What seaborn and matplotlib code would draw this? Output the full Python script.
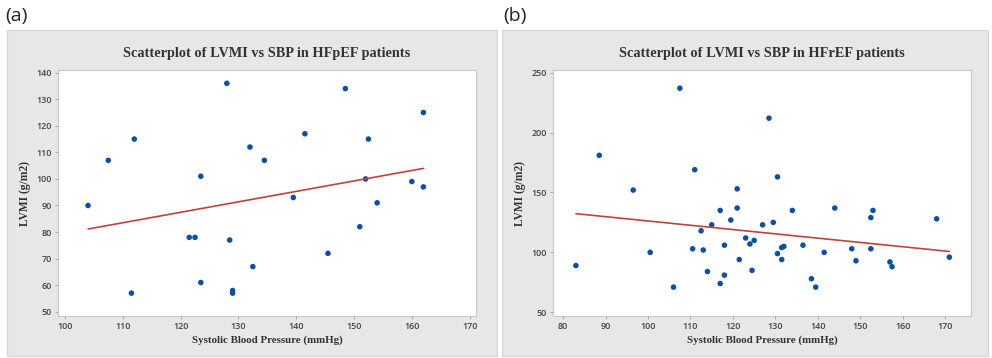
# -*- coding: utf-8 -*-
"""LVMI vs SBP scatterplots (HFpEF / HFrEF)"""
import numpy as np
import pandas as pd
import matplotlib
matplotlib.use("Agg")
import matplotlib.pyplot as plt
from matplotlib.patches import Rectangle
import seaborn as sns

sns.set_style("white")
plt.rcParams["font.family"] = ["Open Sans", "DejaVu Sans"]

# ===== data =====
sbp_pef = [104, 107.5, 111.5, 112, 121.5, 122.5, 123.5, 123.5, 128, 128.5, 129, 129, 132,
           132.5, 134.5, 139.5, 141.5, 145.5, 148.5, 151, 152, 152.5, 154, 160, 162, 162]
lvmi_pef = [90, 107, 57, 115, 78, 78, 101, 61, 136, 77, 58, 57, 112,
            67, 107, 93, 117, 72, 134, 82, 100, 115, 91, 99, 125, 97]

sbp_ref = [83, 88.5, 96.5, 100.5, 106, 107.5, 110.5, 111, 112.5, 113, 114, 115, 117, 117,
           118, 118, 119.5, 121, 121, 121.5, 123, 124, 124.5, 125, 127, 128.5, 129.5,
           130.5, 130.5, 131.5, 131.5, 132, 134, 136.5, 138.5, 139.5, 141.5, 144, 148,
           149, 152.5, 152.5, 153, 157, 157.5, 168, 171]
lvmi_ref = [89, 181, 152, 100, 71, 237, 103, 169, 118, 102, 84, 123, 135, 74,
            106, 81, 127, 153, 137, 94, 112, 107, 85, 110, 123, 212, 125,
            163, 99, 104, 94, 105, 135, 106, 78, 71, 100, 137, 103,
            93, 129, 103, 135, 92, 88, 128, 96]

x_ticks_pef = [100, 110, 120, 130, 140, 150, 160, 170]
y_ticks_pef = [50, 60, 70, 80, 90, 100, 110, 120, 130, 140]
x_ticks_ref = [80, 90, 100, 110, 120, 130, 140, 150, 160, 170]
y_ticks_ref = [50, 100, 150, 200, 250]

df_pef = pd.DataFrame({"sbp": sbp_pef, "lvmi": lvmi_pef})
df_ref = pd.DataFrame({"sbp": sbp_ref, "lvmi": lvmi_ref})

W, H = 992, 358
fig = plt.figure(figsize=(W / 100, H / 100), dpi=100)

# grey panel backgrounds
for x0, x1 in [(7, 497), (502, 988)]:
    fig.patches.append(Rectangle((x0 / W, 1 - 356 / H), (x1 - x0) / W, (356 - 30) / H,
                                 transform=fig.transFigure, facecolor="#e7e7e7",
                                 edgecolor="#d4d4d4", linewidth=0.8, zorder=-5))

serif = ["Liberation Serif", "DejaVu Serif"]


def panel(left, df, title, xlim, ylim, xt, yt):
    ax = fig.add_axes([left / W, 1 - 316 / H, 418 / W, 246 / H])
    ax.set_zorder(2)
    sns.regplot(data=df, x="sbp", y="lvmi", ax=ax, ci=None,
                scatter_kws=dict(s=16, color="#0a4fa8", edgecolor="none", alpha=1),
                line_kws=dict(color="#c4413a", linewidth=1.2))
    ax.set_xlim(*xlim); ax.set_ylim(*ylim)
    ax.set_xticks(xt); ax.set_yticks(yt)
    ax.tick_params(labelsize=6.5, labelcolor="#444444", length=2.5, width=0.6,
                   color="#999999", pad=2, direction="out", bottom=True, left=True)
    for lab in ax.get_xticklabels() + ax.get_yticklabels():
        lab.set_fontweight("semibold")
    for s in ax.spines.values():
        s.set_color("#c8c8c8"); s.set_linewidth(0.8)
    ax.set_xlabel("Systolic Blood Pressure (mmHg)", family=serif, fontweight="bold",
                  fontsize=7.8, color="#333333", labelpad=3)
    ax.set_ylabel("LVMI (g/m2)", family=serif, fontweight="bold",
                  fontsize=8.3, color="#333333", labelpad=4)
    ax.set_title(title, family=serif, fontweight="bold", fontsize=10.3,
                 color="#333333", pad=9)
    return ax


panel(58, df_pef, "Scatterplot of LVMI vs SBP in HFpEF patients",
      (98.8, 171.1), (48.4, 141), x_ticks_pef, y_ticks_pef)
panel(553, df_ref, "Scatterplot of LVMI vs SBP in HFrEF patients",
      (77.6, 176.1), (46.9, 252.2), x_ticks_ref, y_ticks_ref)

fig.text(5 / W, 1 - 16 / H, "(a)", fontsize=14, va="center", ha="left", color="#222222")
fig.text(503 / W, 1 - 16 / H, "(b)", fontsize=14, va="center", ha="left", color="#222222")

fig.savefig("out.png", dpi=100)
